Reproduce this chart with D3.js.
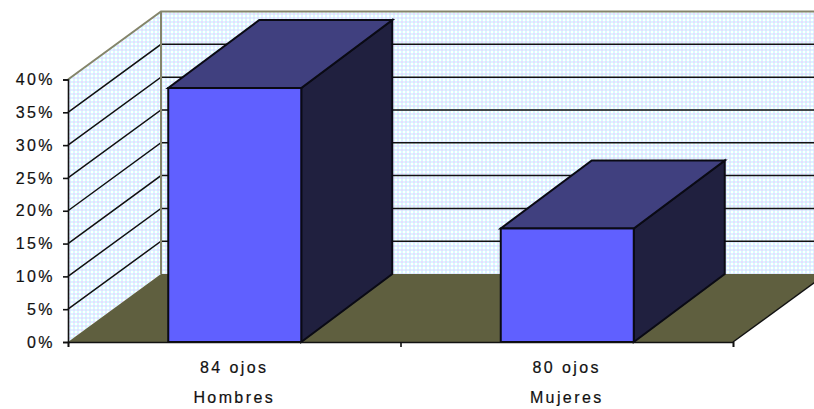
<!DOCTYPE html>
<html lang="es">
<head>
<meta charset="utf-8">
<script src="https://cdn.jsdelivr.net/npm/d3@7"></script>
<style>
  html, body { margin: 0; padding: 0; background: #fff; overflow: hidden; }
  svg { display: block; }
  text { font-family: "Liberation Sans", Arial, sans-serif; font-size: 16px; letter-spacing: 2.4px; fill: #111; stroke: #111; stroke-width: 0.2px; }
</style>
</head>
<body>
<svg id="chart" width="814" height="409"></svg>
<script>
// Porcentaje por sexo, columnas en perspectiva
const groups = ["Hombres", "Mujeres"];
const eyeCounts = ["84 ojos", "80 ojos"];
const shares = [38.7, 17.3];
const percentTicks = [0, 5, 10, 15, 20, 25, 30, 35, 40];

const plot = { left: 68, right: 733, top: 79.5, bottom: 342 };
const depth = { x: 93, y: -68 };
const barDepth = { x: 91, y: -68 };

const svg = d3.select("#chart");
const defs = svg.append("defs");

// Dotted pale blue used on both walls
const dither = defs.append("pattern")
  .attr("id", "wallDither").attr("patternUnits", "userSpaceOnUse")
  .attr("width", 4).attr("height", 4);
dither.append("rect").attr("width", 4).attr("height", 4).attr("fill", "#d2fcff");
dither.append("circle").attr("cx", 2).attr("cy", 2).attr("r", 1.3).attr("fill", "#e6dcff");
dither.append("circle").attr("cx", 0).attr("cy", 0).attr("r", 1.3).attr("fill", "#ffffff");
dither.append("circle").attr("cx", 4).attr("cy", 0).attr("r", 1.3).attr("fill", "#ffffff");
dither.append("circle").attr("cx", 0).attr("cy", 4).attr("r", 1.3).attr("fill", "#ffffff");
dither.append("circle").attr("cx", 4).attr("cy", 4).attr("r", 1.3).attr("fill", "#ffffff");

const y = d3.scaleLinear().domain([0, 40]).range([plot.bottom, plot.top]);
const x = d3.scaleBand().domain(groups).range([plot.left + 0.5, plot.right + 0.5])
  .paddingInner(0.6).paddingOuter(0.3);
const labelX = d3.scaleBand().domain(groups).range([plot.left, plot.right]);
const edgeX = d3.scaleLinear().domain([0, 2]).range([plot.left, plot.right]);

const poly = pts => pts.map(p => p.join(",")).join(" ");
const olive = "#85856a";

// Back and side walls
svg.append("polygon")
  .attr("points", poly([
    [plot.left + depth.x, y(40) + depth.y],
    [plot.right + depth.x, y(40) + depth.y],
    [plot.right + depth.x, y(0) + depth.y],
    [plot.left + depth.x, y(0) + depth.y]]))
  .attr("fill", "url(#wallDither)");
svg.append("polygon")
  .attr("points", poly([
    [plot.left, y(40)],
    [plot.left + depth.x, y(40) + depth.y],
    [plot.left + depth.x, y(0) + depth.y],
    [plot.left, y(0)]]))
  .attr("fill", "url(#wallDither)");

// Gridlines wrap from the side wall onto the back wall
svg.append("g").selectAll("polyline")
  .data(percentTicks.slice(1, -1))
  .join("polyline")
  .attr("points", d => poly([
    [plot.left, y(d)],
    [plot.left + depth.x, y(d) + depth.y],
    [plot.right + depth.x, y(d) + depth.y]]))
  .attr("fill", "none").attr("stroke", "#111").attr("stroke-width", 1.5);

// Wall outline
svg.append("polyline")
  .attr("points", poly([
    [plot.left, y(40)],
    [plot.left + depth.x, y(40) + depth.y],
    [plot.right + depth.x, y(40) + depth.y]]))
  .attr("fill", "none").attr("stroke", olive).attr("stroke-width", 2);
svg.append("line")
  .attr("x1", plot.left + depth.x).attr("x2", plot.left + depth.x)
  .attr("y1", y(40) + depth.y).attr("y2", y(0) + depth.y)
  .attr("stroke", olive).attr("stroke-width", 2);

// Floor
svg.append("polygon")
  .attr("points", poly([
    [plot.left, y(0)],
    [plot.right, y(0)],
    [plot.right + depth.x, y(0) + depth.y],
    [plot.left + depth.x, y(0) + depth.y]]))
  .attr("fill", "#5f5f3f");
svg.append("line")
  .attr("x1", plot.right).attr("y1", y(0))
  .attr("x2", plot.right + depth.x).attr("y2", y(0) + depth.y)
  .attr("stroke", "#111").attr("stroke-width", 1.4);

// Columns: side, top, then front face
const bars = svg.append("g").selectAll("g")
  .data(groups.map((g, i) => ({ group: g, value: shares[i] })))
  .join("g")
  .attr("stroke", "#0a0a14").attr("stroke-width", 2).attr("stroke-linejoin", "miter");

bars.append("polygon")
  .attr("points", d => {
    const r = x(d.group) + x.bandwidth();
    return poly([
      [r, y(d.value)],
      [r + barDepth.x, y(d.value) + barDepth.y],
      [r + barDepth.x, y(0) + barDepth.y],
      [r, y(0)]]);
  })
  .attr("fill", "#20203f");
bars.append("polygon")
  .attr("points", d => {
    const l = x(d.group), r = l + x.bandwidth();
    return poly([
      [l, y(d.value)],
      [r, y(d.value)],
      [r + barDepth.x, y(d.value) + barDepth.y],
      [l + barDepth.x, y(d.value) + barDepth.y]]);
  })
  .attr("fill", "#40407f");
bars.append("rect")
  .attr("x", d => x(d.group))
  .attr("y", d => y(d.value))
  .attr("width", x.bandwidth())
  .attr("height", d => y(0) - y(d.value))
  .attr("fill", "#6060ff");

// Percentage axis
const yAxis = svg.append("g")
  .attr("transform", `translate(${plot.left},0)`)
  .call(d3.axisLeft(y).tickValues(percentTicks).tickFormat(d => d + "%").tickSize(5).tickPadding(8));
yAxis.selectAll("path, line").attr("stroke", "#111").attr("stroke-width", 1.6);
yAxis.selectAll("text").attr("font-size", null).attr("font-family", null);

// Category axis with ticks on the group boundaries
const xAxis = svg.append("g")
  .attr("transform", `translate(0,${plot.bottom})`)
  .call(d3.axisBottom(edgeX).tickValues([0, 1, 2]).tickFormat("").tickSize(5));
xAxis.selectAll("path, line").attr("stroke", "#111").attr("stroke-width", 1.6);

// Two-line category labels
const labels = svg.append("g").attr("text-anchor", "middle");
labels.selectAll(".count").data(groups).join("text")
  .attr("class", "count")
  .attr("x", d => labelX(d) + labelX.bandwidth() / 2)
  .attr("y", 373)
  .text((d, i) => eyeCounts[i]);
labels.selectAll(".group").data(groups).join("text")
  .attr("class", "group")
  .attr("x", d => labelX(d) + labelX.bandwidth() / 2)
  .attr("y", 403)
  .text(d => d);
</script>
</body>
</html>
